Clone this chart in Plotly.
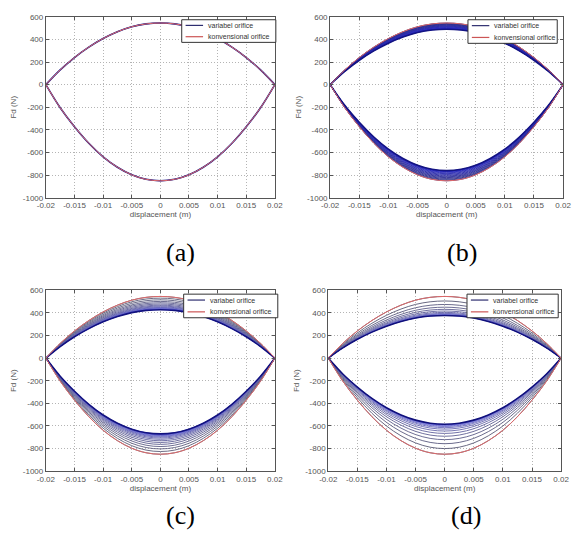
import plotly.graph_objects as go

# displacement samples (m)
disp = [-0.02, -0.0175, -0.015, -0.0125, -0.01, -0.0075, -0.005, -0.0025, 0.0,
        0.0025, 0.005, 0.0075, 0.01, 0.0125, 0.015, 0.0175, 0.02]

# conventional orifice loop (N): extension branch and compression branch
konv_upper = [0, 130, 240, 332, 408, 468, 512, 537, 545, 537, 512, 468, 408, 332, 240, 130, 0]
konv_lower = [0, -204, -372, -518, -638, -730, -797, -837, -850, -837, -797, -730, -638, -518, -372, -204, 0]

# variable orifice: peak force of each successive cycle (N)
var_peak_a = [545, 545]
var_trough_a = [-850, -850]

var_peak_b = [545, 541, 537, 533, 529, 525, 521, 517, 513, 509, 505, 501, 497, 494, 492, 490]
var_trough_b = [-850, -843, -836, -829, -822, -815, -808, -801, -794, -787, -780, -774, -769, -765, -762, -760]

var_peak_c = [545, 530, 515, 501, 489, 478, 468, 460, 453, 447, 442, 438, 435, 433, 431, 430, 429, 428]
var_trough_c = [-850, -826, -803, -782, -763, -746, -731, -718, -707, -698, -691, -685, -680, -677, -674, -672, -671, -670]

var_peak_d = [545, 505, 474, 450, 431, 416, 404, 395, 389, 385, 382, 380, 379, 378, 377]
var_trough_d = [-850, -800, -757, -721, -691, -666, -645, -628, -615, -605, -598, -593, -589, -587, -585]

series_names = ["variabel orifice", "konvensional orifice"]

x_ticks = [-0.02, -0.015, -0.01, -0.005, 0, 0.005, 0.01, 0.015, 0.02]
x_tick_text = ["-0.02", "-0.015", "-0.01", "-0.005", "0", "0.005", "0.01", "0.015", "0.02"]
y_ticks = [-1000, -800, -600, -400, -200, 0, 200, 400, 600]
y_tick_text = ["-1000", "-800", "-600", "-400", "-200", "0", "200", "400", "600"]

panel_labels = ["(a)", "(b)", "(c)", "(d)"]

families = [
    (var_peak_a, var_trough_a),
    (var_peak_b, var_trough_b),
    (var_peak_c, var_trough_c),
    (var_peak_d, var_trough_d),
]

W, H = 573, 548
# plot-area placement of each panel, in pixels (left, right, top, bottom)
boxes_px = [(38, 274, 13, 197), (331, 571, 13, 197), (38, 274, 291, 475), (329, 569, 291, 475)]
# legend boxes in pixels (left, right, top, bottom)
legend_px = [(178, 275, 16, 39), (473, 565, 16, 40), (180, 277, 295, 319), (472, 566, 295, 319)]
label_pos = [(177, 253), (467, 253), (177, 520), (471, 520)]

# colour ramps for the cycle families: early cycles greyish, later bluer, last navy
ramps = [
    ("#3c3c8c", "#2a2ad8"),
    ("#30307e", "#2424c8"),
    ("#5a5a6e", "#6c6cee"),
    ("#55556a", "#7878f0"),
]
final_colors = ["#1a1a8a", "#141482", "#12127e", "#10107a"]
legend_colors = ["#2e2e70", "#cc5555"]
konv_color = "#e06a6a"


def hex_to_rgb(h):
    h = h.lstrip("#")
    return tuple(int(h[i:i + 2], 16) for i in (0, 2, 4))


def blend(c0, c1, t):
    a, b = hex_to_rgb(c0), hex_to_rgb(c1)
    return "rgb(%d,%d,%d)" % tuple(round(a[i] + (b[i] - a[i]) * t) for i in range(3))


def loop_xy(upper, lower):
    return disp + [None] + disp, upper + [None] + lower


def px_x(v):
    return v / W


def px_y(v):
    return 1 - v / H


fig = go.Figure()
base_up = konv_upper[8]
base_low = konv_lower[8]

for p, (peaks, troughs) in enumerate(families):
    xa = "x" if p == 0 else "x%d" % (p + 1)
    ya = "y" if p == 0 else "y%d" % (p + 1)
    n = len(peaks)
    for k in range(n):
        up = [v * peaks[k] / base_up for v in konv_upper]
        low = [v * troughs[k] / base_low for v in konv_lower]
        xs, ys = loop_xy(up, low)
        last = k == n - 1
        t = k / max(n - 2, 1)
        color = final_colors[p] if last else blend(ramps[p][0], ramps[p][1], min(t, 1))
        fig.add_trace(go.Scatter(
            x=xs, y=ys, mode="lines", xaxis=xa, yaxis=ya,
            line=dict(color=color, width=1.6 if last else 0.9, shape="spline"),
            name=series_names[0], showlegend=False, hoverinfo="skip",
        ))
    xs, ys = loop_xy(konv_upper, konv_lower)
    fig.add_trace(go.Scatter(
        x=xs, y=ys, mode="lines", xaxis=xa, yaxis=ya,
        line=dict(color=konv_color, width=1.0, shape="spline"),
        name=series_names[1], showlegend=False, hoverinfo="skip",
    ))

axis_font = dict(family="Liberation Sans, Arial, sans-serif", size=8, color="#555555")
legend_font = dict(family="Liberation Sans, Arial, sans-serif", size=7, color="#333333")
layout = dict(
    width=W, height=H, margin=dict(l=0, r=0, t=0, b=0),
    paper_bgcolor="white", plot_bgcolor="white", showlegend=False,
    font=axis_font,
)
shapes = []
annotations = []
for p in range(4):
    sx = "xaxis" if p == 0 else "xaxis%d" % (p + 1)
    sy = "yaxis" if p == 0 else "yaxis%d" % (p + 1)
    anchor_x = "y" if p == 0 else "y%d" % (p + 1)
    anchor_y = "x" if p == 0 else "x%d" % (p + 1)
    l, r, t, b = boxes_px[p]
    layout[sx] = dict(
        domain=[px_x(l), px_x(r)], anchor=anchor_x, range=[-0.02, 0.02],
        tickvals=x_ticks, ticktext=x_tick_text, tickfont=axis_font,
        showline=True, mirror="ticks", linecolor="#555555", linewidth=1,
        ticks="inside", ticklen=3, tickcolor="#555555",
        showgrid=True, gridcolor="#b4b4b4", griddash="1px,2px", gridwidth=1,
        zeroline=False,
        title=dict(text="displacement (m)", font=axis_font, standoff=1),
    )
    layout[sy] = dict(
        domain=[px_y(b), px_y(t)], anchor=anchor_y, range=[-1000, 600],
        tickvals=y_ticks, ticktext=y_tick_text, tickfont=axis_font,
        showline=True, mirror="ticks", linecolor="#555555", linewidth=1,
        ticks="inside", ticklen=3, tickcolor="#555555",
        showgrid=True, gridcolor="#b4b4b4", griddash="1px,2px", gridwidth=1,
        zeroline=False,
        title=dict(text="Fd (N)", font=axis_font, standoff=4),
    )

    # legend box for the panel
    ll, lr, lt, lb = legend_px[p]
    shapes.append(dict(type="rect", xref="paper", yref="paper",
                       x0=px_x(ll), x1=px_x(lr), y0=px_y(lb), y1=px_y(lt),
                       fillcolor="white", line=dict(color="#333333", width=1), layer="above"))
    row_h = (lb - lt) / 2
    for i, name in enumerate(series_names):
        yc = lt + row_h * (i + 0.5)
        shapes.append(dict(type="line", xref="paper", yref="paper",
                           x0=px_x(ll + 4), x1=px_x(ll + 22), y0=px_y(yc), y1=px_y(yc),
                           line=dict(color=legend_colors[i], width=1.2), layer="above"))
        annotations.append(dict(text=name, x=px_x(ll + 25), y=px_y(yc), xref="paper", yref="paper",
                                showarrow=False, xanchor="left", yanchor="middle", font=legend_font))

    annotations.append(dict(
        text=panel_labels[p], x=px_x(label_pos[p][0]), y=px_y(label_pos[p][1]),
        xref="paper", yref="paper", showarrow=False, xanchor="center", yanchor="middle",
        font=dict(family="Times New Roman", size=26, color="black")))

layout["shapes"] = shapes
layout["annotations"] = annotations
fig.update_layout(**layout)
fig.write_html("out.html")
